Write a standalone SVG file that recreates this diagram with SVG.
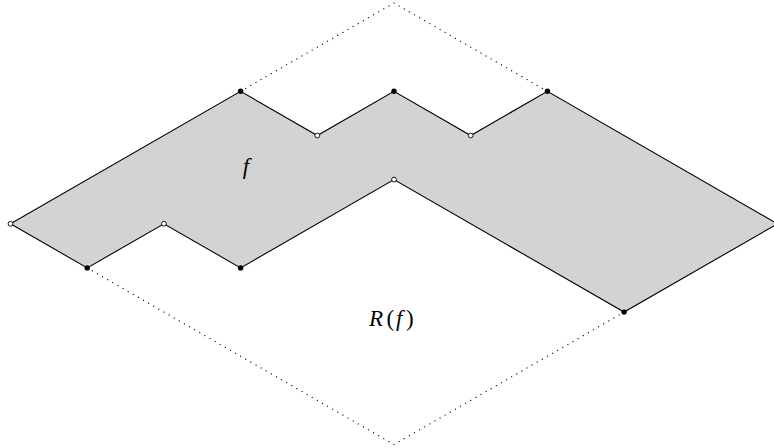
<svg xmlns="http://www.w3.org/2000/svg" width="774" height="448" viewBox="0 0 774 448">
  <style>
    .region { fill: #d3d3d3; stroke: #000; stroke-width: 1.1; stroke-linejoin: miter; }
    .dotted { fill: none; stroke: #000; stroke-width: 1.2; stroke-linecap: round; stroke-dasharray: 0.1 5.8; }
    .full { fill: #000; stroke: none; }
    .hollow { fill: #fff; stroke: #000; stroke-width: 0.9; }
    .lbl { font-family: "Liberation Serif", "Times New Roman", serif; font-size: 23px; fill: #000; }
    .it { font-style: italic; }
  </style>

  <!-- the shaded region f -->
  <g id="region-f">
    <polygon class="region" points="10.5,223.8 87.2,267.9 163.9,223.8 240.6,267.9 394,179.6 624.1,312.1 777.5,223.8 547.4,91.3 470.7,135.5 394,91.3 317.3,135.5 240.6,91.3"/>
  </g>

  <!-- dotted completion of the rectangle -->
  <g id="connectors">
    <polyline class="dotted" points="240.6,91.3 394,3 547.4,91.3"/>
    <polyline class="dotted" points="87.2,267.9 394,444.5 624.1,312.1"/>
  </g>

  <!-- corner points -->
  <g id="p-left"><circle class="hollow" cx="10.5" cy="223.8" r="2.4"/></g>
  <g id="p-b1"><circle class="full" cx="87.2" cy="267.9" r="2.7"/></g>
  <g id="p-b2"><circle class="hollow" cx="163.9" cy="223.8" r="2.4"/></g>
  <g id="p-b3"><circle class="full" cx="240.6" cy="267.9" r="2.7"/></g>
  <g id="p-b4"><circle class="hollow" cx="394" cy="179.6" r="2.4"/></g>
  <g id="p-b5"><circle class="full" cx="624.1" cy="312.1" r="2.7"/></g>
  <g id="p-t1"><circle class="full" cx="240.6" cy="91.3" r="2.7"/></g>
  <g id="p-t2"><circle class="hollow" cx="317.3" cy="135.5" r="2.4"/></g>
  <g id="p-t3"><circle class="full" cx="394" cy="91.3" r="2.7"/></g>
  <g id="p-t4"><circle class="hollow" cx="470.7" cy="135.5" r="2.4"/></g>
  <g id="p-t5"><circle class="full" cx="547.4" cy="91.3" r="2.7"/></g>

  <!-- labels -->
  <g id="label-f">
    <text class="lbl it" x="246" y="174" text-anchor="middle">f</text>
  </g>
  <g id="label-Rf">
    <text class="lbl" y="326"><tspan class="it" x="369">R</tspan><tspan x="386.5">(</tspan><tspan class="it" x="396">f</tspan><tspan x="406">)</tspan></text>
  </g>
</svg>
